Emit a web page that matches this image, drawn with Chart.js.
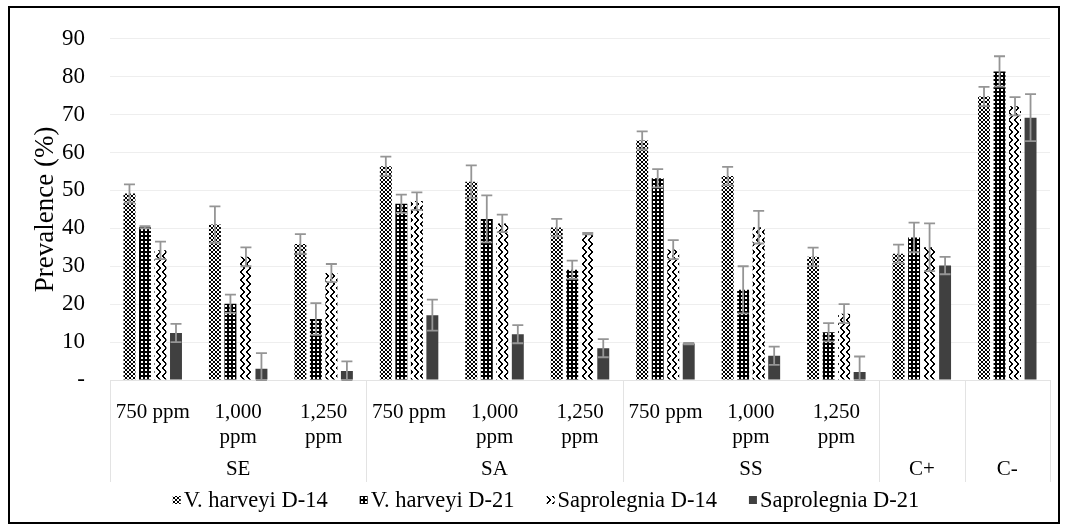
<!DOCTYPE html>
<html>
<head>
<meta charset="utf-8">
<script src="https://cdn.jsdelivr.net/npm/chart.js@4.4.1/dist/chart.umd.min.js"></script>
<style>
  html, body { margin:0; padding:0; background:#fff; }
  #wrap { position:relative; width:1067px; height:530px; }
  #frame { position:absolute; left:8px; top:6px; width:1048px; height:514px; border:2px solid #000; pointer-events:none; }
</style>
</head>
<body>
<div id="wrap">
  <canvas id="chart" width="1067" height="530"></canvas>
  <div id="frame"></div>
</div>
<script>
// categories (inner label per bar group) and outer groups
const categories = ['750 ppm', ['1,000', 'ppm'], ['1,250', 'ppm'],
                    '750 ppm', ['1,000', 'ppm'], ['1,250', 'ppm'],
                    '750 ppm', ['1,000', 'ppm'], ['1,250', 'ppm'],
                    '', ''];
const groupLabels = ['SE', 'SA', 'SS', 'C+', 'C-'];
const groupSizes  = [3, 3, 3, 1, 1];

const seriesNames = ['V. harveyi D-14', 'V. harveyi D-21', 'Saprolegnia D-14', 'Saprolegnia D-21'];

const vh14     = [49.2, 41.0, 35.9, 56.4, 52.3, 40.2, 63.2, 53.8, 32.5, 33.3, 74.8];
const vh14Err  = [2.4, 4.8, 2.6, 2.5, 4.3, 2.3, 2.4, 2.4, 2.4, 2.4, 2.5];
const vh21     = [40.3, 20.1, 16.1, 46.5, 42.5, 29.1, 53.2, 23.8, 12.6, 37.6, 81.4];
const vh21Err  = [0.3, 2.4, 4.2, 2.4, 6.2, 2.4, 2.4, 6.2, 2.4, 3.9, 4.0];
const sap14    = [34.2, 32.5, 28.2, 47.2, 41.3, 38.6, 34.4, 40.3, 17.5, 35.0, 72.2];
const sap14Err = [2.3, 2.5, 2.4, 2.3, 2.3, 0.2, 2.5, 4.3, 2.5, 6.3, 2.4];
const sap21    = [12.4, 3.0, 2.4, 17.1, 12.1, 8.4, 9.6, 6.4, 2.1, 30.2, 69.2];
const sap21Err = [2.4, 4.1, 2.5, 4.1, 2.4, 2.4, 0.2, 2.4, 4.1, 2.3, 6.2];

const yTicks = [0, 10, 20, 30, 40, 50, 60, 70, 80, 90];

const FONT = "'Liberation Serif', 'Times New Roman', serif";

// little pixel tiles for the fill patterns
function makePattern(rows, fg, bg) {
  const c = document.createElement('canvas');
  c.width = rows[0].length; c.height = rows.length;
  const g = c.getContext('2d');
  g.fillStyle = bg; g.fillRect(0, 0, c.width, c.height);
  g.fillStyle = fg;
  rows.forEach((r, y) => { for (let x = 0; x < r.length; x++) if (r[x] === '1') g.fillRect(x, y, 1, 1); });
  return g.createPattern(c, 'repeat');
}

const patVH14 = makePattern([
  '1001',
  '0110',
  '0110',
  '1001'
], '#000', '#fff');
const patVH21 = makePattern([
  '1111',
  '1001',
  '1001',
  '1111'
], '#000', '#fff');
const patS14 = makePattern([
  '110000',
  '011000',
  '001100',
  '000110',
  '000110',
  '001100',
  '011000',
  '110000'
], '#000', '#fff');

const fills = [patVH14, patVH21, patS14, '#404040'];
const values = [vh14, vh21, sap14, sap21];
const errors = [vh14Err, vh21Err, sap14Err, sap21Err];

const errorBars = {
  id: 'errorBars',
  afterDatasetsDraw(chart) {
    const ctx = chart.ctx, y = chart.scales.y;
    ctx.save();
    ctx.strokeStyle = '#959595';
    ctx.lineWidth = 1.8;
    chart.data.datasets.forEach((ds, i) => {
      const meta = chart.getDatasetMeta(i);
      meta.data.forEach((bar, j) => {
        const e = ds.errors[j];
        if (!e) return;
        const v = ds.data[j];
        const t = y.getPixelForValue(v + e), b = y.getPixelForValue(Math.max(0, v - e));
        ctx.beginPath();
        ctx.moveTo(bar.x, t); ctx.lineTo(bar.x, b);
        ctx.moveTo(bar.x - 5.5, t); ctx.lineTo(bar.x + 5.5, t);
        ctx.moveTo(bar.x - 5.5, b); ctx.lineTo(bar.x + 5.5, b);
        ctx.stroke();
      });
    });
    ctx.restore();
  }
};

const groupAxis = {
  id: 'groupAxis',
  afterDraw(chart) {
    const ctx = chart.ctx, x = chart.scales.x, area = chart.chartArea;
    const catW = (x.right - x.left) / categories.length;
    ctx.save();
    ctx.strokeStyle = '#e3e3e3';
    ctx.lineWidth = 1;
    let start = 0;
    const edges = [0];
    groupSizes.forEach(n => { start += n; edges.push(start); });
    edges.forEach(k => {
      const px = Math.round(x.left + k * catW) + 0.5;
      ctx.beginPath(); ctx.moveTo(px, area.bottom); ctx.lineTo(px, area.bottom + 102); ctx.stroke();
    });
    ctx.fillStyle = '#000';
    ctx.font = '21px ' + FONT;
    ctx.textAlign = 'center';
    ctx.textBaseline = 'middle';
    groupLabels.forEach((g, k) => {
      const cx = x.left + (edges[k] + edges[k + 1]) / 2 * catW;
      ctx.fillText(g, cx, area.bottom + 89);
    });

    // legend
    ctx.font = '22.5px ' + FONT;
    ctx.textAlign = 'left';
    const box = 8, boxGap = 3, gap = 32;
    const widths = seriesNames.map(s => box + boxGap + ctx.measureText(s).width);
    const total = widths.reduce((a, b) => a + b, 0) + gap * (seriesNames.length - 1);
    let lx = 546 - total / 2;
    const ly = 500;
    seriesNames.forEach((s, i) => {
      ctx.fillStyle = fills[i];
      ctx.fillRect(lx, ly - box / 2, box, box);
      ctx.fillStyle = '#000';
      ctx.fillText(s, lx + box + boxGap, ly + 1);
      lx += widths[i] + gap;
    });
    ctx.restore();
  }
};

new Chart(document.getElementById('chart'), {
  type: 'bar',
  data: {
    labels: categories,
    datasets: values.map((d, i) => ({
      label: seriesNames[i],
      data: d,
      errors: errors[i],
      backgroundColor: fills[i],
      borderWidth: 0,
      categoryPercentage: 0.726,
      barPercentage: 0.77
    }))
  },
  options: {
    responsive: false,
    animation: false,
    layout: { padding: { left: 10, right: 17, top: 29, bottom: 0 } },
    plugins: { legend: { display: false }, tooltip: { enabled: false } },
    scales: {
      x: {
        grid: { display: false },
        border: { color: '#e3e3e3' },
        ticks: { color: '#000', font: { family: FONT, size: 21, lineHeight: 1.2 }, padding: 12, maxRotation: 0, autoSkip: false },
        afterFit: s => { s.height = 150; }
      },
      y: {
        min: 0, max: 90,
        afterBuildTicks: s => { s.ticks = yTicks.map(v => ({ value: v })); },
        grid: { color: '#eeeeee', drawTicks: false },
        border: { display: false },
        ticks: { color: '#000', padding: 25, font: { family: FONT, size: 23 }, callback: v => v === 0 ? '-' : v },
        title: { display: true, text: 'Prevalence (%)', color: '#000', font: { family: FONT, size: 27 }, padding: { top: 20, bottom: 0 } },
        afterFit: s => { s.width = 100; }
      }
    }
  },
  plugins: [errorBars, groupAxis]
});
</script>
</body>
</html>
